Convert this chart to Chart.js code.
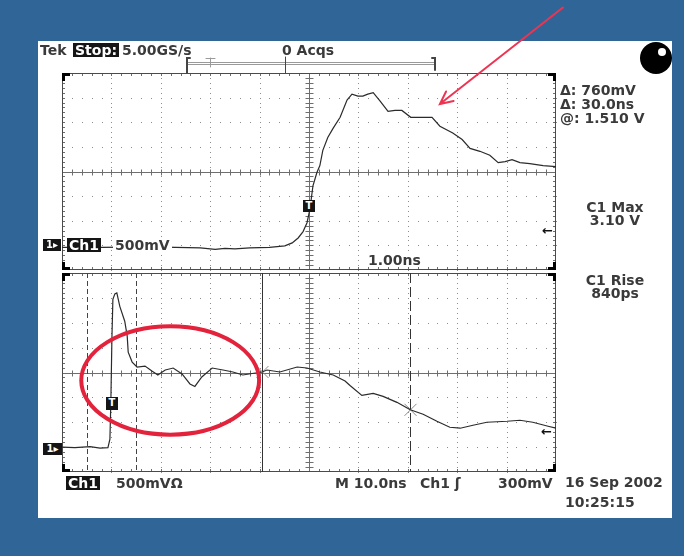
<!DOCTYPE html>
<html>
<head>
<meta charset="utf-8">
<title>Tek scope capture</title>
<script src="https://cdn.jsdelivr.net/npm/chart.js@4.4.1/dist/chart.umd.min.js"></script>
<style>
  html, body { margin: 0; padding: 0; }
  body { width: 684px; height: 556px; background: #2f6597; position: relative; overflow: hidden;
         font: bold 14px "DejaVu Sans", sans-serif; color: #3a3a3a; }
  #screen { position: absolute; left: 38px; top: 41px; width: 634px; height: 477px; background: #fff; }
  canvas { position: absolute; left: 0; top: 0; }
  .t { position: absolute; white-space: nowrap; line-height: 14px; }
  .inv { background: #151515; color: #fff; padding: 0 2px; }
  .wb { background: #fff; padding: 0 2px; }
  .ctr { text-align: center; width: 80px; line-height: 13px; }
  .mark { position: absolute; background: #151515; color: #fff; font-size: 10px; line-height: 12px; text-align: center; }
  .arr { font-size: 13px; color: #111; }
  #ball { position: absolute; left: 640px; top: 42px; width: 32px; height: 32px; border-radius: 50%; background: #000; }
  #ball::after { content: ''; position: absolute; left: 18px; top: 6px; width: 8px; height: 8px; border-radius: 50%; background: #fff; }
</style>
</head>
<body>
<div id="screen"></div>
<canvas id="zoomChart" width="684" height="556"></canvas>
<canvas id="mainChart" width="684" height="556"></canvas>
<div id="ball"></div>

<div class="t" style="left:40px;top:43px">Tek</div>
<div class="t inv" style="left:73px;top:43px">Stop:</div>
<div class="t" style="left:122px;top:43px">5.00GS/s</div>
<div class="t" style="left:282px;top:43px">0 Acqs</div>

<div class="t" style="left:560px;top:83px">Δ: 760mV</div>
<div class="t" style="left:560px;top:97px">Δ: 30.0ns</div>
<div class="t" style="left:560px;top:111px">@: 1.510 V</div>
<div class="t ctr" style="left:575px;top:201px">C1 Max<br>3.10 V</div>
<div class="t ctr" style="left:575px;top:274px">C1 Rise<br>840ps</div>

<div class="t wb" style="left:366px;top:253px">1.00ns</div>
<div class="mark" style="left:43px;top:239px;width:18px;height:12px">1▸</div>
<div class="t inv" style="left:67px;top:238px">Ch1</div>
<div class="t wb" style="left:113px;top:238px">500mV</div>
<div class="mark" style="left:43px;top:443px;width:19px;height:12px">1▸</div>
<div class="mark" style="left:303px;top:200px;width:12px;height:12px">T</div>
<div class="mark" style="left:106px;top:397px;width:12px;height:13px">T</div>
<div class="t arr" style="left:542px;top:224px">←</div>
<div class="t arr" style="left:541px;top:425px">←</div>

<div class="t inv" style="left:66px;top:476px">Ch1</div>
<div class="t" style="left:116px;top:476px">500mVΩ</div>
<div class="t" style="left:335px;top:476px">M 10.0ns</div>
<div class="t" style="left:420px;top:476px">Ch1 ʃ</div>
<div class="t" style="left:498px;top:476px">300mV</div>
<div class="t" style="left:565px;top:475px">16 Sep 2002</div>
<div class="t" style="left:565px;top:495px">10:25:15</div>

<script>
// zoomed trace, 1.00 ns/div around the trigger
const zoomTimeNs = [-5.0, -4.2, -3.2, -2.7, -2.2, -1.9, -1.7, -1.5, -1.2, -0.8, -0.49, -0.34, -0.22, -0.12, -0.04,
  0.02, 0.08, 0.16, 0.22, 0.28, 0.38, 0.49, 0.63, 0.77, 0.87, 0.99, 1.09, 1.19, 1.30, 1.44, 1.60, 1.74, 1.88,
  2.06, 2.25, 2.49, 2.65, 2.91, 3.10, 3.26, 3.46, 3.66, 3.83, 3.97, 4.11, 4.27, 4.47, 4.74, 5.0];
const zoomVolts = [-0.04, -0.04, -0.03, -0.04, -0.05, -0.08, -0.06, -0.07, -0.05, -0.04, -0.01, 0.05, 0.15, 0.28, 0.46,
  0.74, 1.21, 1.48, 1.62, 1.93, 2.19, 2.38, 2.60, 2.95, 3.07, 3.03, 3.03, 3.07, 3.10, 2.93, 2.72, 2.74, 2.74,
  2.60, 2.60, 2.60, 2.42, 2.28, 2.15, 1.97, 1.91, 1.83, 1.68, 1.70, 1.74, 1.68, 1.66, 1.62, 1.60];

// main record, 10.0 ns/div
const mainTimeNs = [-10, -7.4, -4.3, -2.3, -0.7, -0.3, -0.1, 0.1, 0.3, 0.7, 1.1, 1.7, 2.7, 3.2, 3.4, 4.2, 5.2, 6.8,
  8.2, 9.4, 10.9, 12.5, 14.3, 15.9, 16.9, 18.3, 20.4, 22.6, 24.6, 26.6, 28.5, 30.5, 31.5, 34.1, 37.6, 39.6, 42.2,
  44.9, 47.3, 48.3, 50.7, 53.0, 55.0, 57.8, 60.5, 63.1, 65.9, 68.5, 70.6, 73.2, 76.0, 80.1, 82.7, 85.3, 88.4, 90];
const mainVolts = [0, -0.01, 0.01, -0.02, -0.01, 0.16, 0.96, 2.17, 2.97, 3.08, 3.10, 2.83, 2.53, 2.23, 1.91, 1.71, 1.61, 1.63,
  1.53, 1.45, 1.55, 1.59, 1.47, 1.27, 1.22, 1.41, 1.59, 1.55, 1.51, 1.45, 1.48, 1.51, 1.55, 1.51, 1.61, 1.59, 1.51,
  1.45, 1.33, 1.24, 1.04, 1.08, 1.02, 0.90, 0.75, 0.66, 0.52, 0.40, 0.38, 0.44, 0.50, 0.52, 0.54, 0.50, 0.42, 0.38];

// cursors on the main record (ns) and the level each one reads (V)
const cursorTimes = [30.5, 60.5];
const cursorLevels = [1.51, 0.75];
const zoomWindow = [-5, 5];

// 10 x 8 division graticule with dotted lines, ruled centre cross and edge ticks
const graticule = {
  id: 'graticule',
  beforeDatasetsDraw(chart, args, opts) {
    const { ctx, chartArea: a, scales: { x, y } } = chart;
    const xs = [], ys = [];
    for (let i = 0; i <= 10; i++) xs.push(Math.round(x.getPixelForValue(x.min + i * (x.max - x.min) / 10)));
    for (let j = 0; j <= 8; j++) ys.push(Math.round(y.getPixelForValue(y.min + j * (y.max - y.min) / 8)));
    const mx = (a.right - a.left) / 50, my = (a.bottom - a.top) / 40;
    ctx.save();

    ctx.fillStyle = '#8c8c8c';
    for (let i = 1; i < 10; i++) {
      if (i === 5) continue;
      for (let k = 0; k <= 40; k++) ctx.fillRect(xs[i], Math.round(a.top + k * my), 1, 1);
    }
    for (let j = 1; j < 8; j++) {
      if (j === 4) continue;
      for (let k = 0; k <= 50; k++) ctx.fillRect(Math.round(a.left + k * mx), ys[j], 1, 1);
    }

    const cx = xs[5] + 0.5, cy = ys[4] + 0.5;
    ctx.strokeStyle = '#6e6e6e';
    ctx.lineWidth = 1;
    ctx.beginPath();
    ctx.moveTo(a.left, cy); ctx.lineTo(a.right, cy);
    ctx.moveTo(cx, a.top); ctx.lineTo(cx, a.bottom);
    for (let k = 1; k < 50; k++) {
      const px = Math.round(a.left + k * mx) + 0.5;
      ctx.moveTo(px, cy - 3); ctx.lineTo(px, cy + 3);
      ctx.moveTo(px, a.top); ctx.lineTo(px, a.top + 3);
      ctx.moveTo(px, a.bottom); ctx.lineTo(px, a.bottom - 3);
    }
    for (let k = 1; k < 40; k++) {
      const py = Math.round(a.top + k * my) + 0.5;
      ctx.moveTo(cx - 4, py); ctx.lineTo(cx + 4, py);
      ctx.moveTo(a.left, py); ctx.lineTo(a.left + 3, py);
      ctx.moveTo(a.right, py); ctx.lineTo(a.right - 3, py);
    }
    ctx.stroke();

    // frame
    ctx.strokeStyle = '#4a4a4a';
    ctx.strokeRect(Math.round(a.left) + 0.5, Math.round(a.top) + 0.5,
      Math.round(a.right - a.left) - 1, Math.round(a.bottom - a.top) - 1);

    // corner marks
    ctx.fillStyle = '#000';
    const L = Math.round(a.left), R = Math.round(a.right), T = Math.round(a.top), B = Math.round(a.bottom);
    [[L, T, 1, 1], [R, T, -1, 1], [L, B, 1, -1], [R, B, -1, -1]].forEach(([px, py, sx, sy]) => {
      ctx.fillRect(sx > 0 ? px : px - 3, sy > 0 ? py : py - 8, 3, 8);
      ctx.fillRect(sx > 0 ? px : px - 8, sy > 0 ? py : py - 3, 8, 3);
    });

    // zoom window and time cursors
    if (opts.zoomWindow) {
      ctx.strokeStyle = '#444';
      ctx.setLineDash([5, 3]);
      ctx.beginPath();
      opts.zoomWindow.forEach(t => {
        const px = Math.round(x.getPixelForValue(t)) + 0.5;
        ctx.moveTo(px, a.top); ctx.lineTo(px, a.bottom);
      });
      ctx.stroke();
    }
    if (opts.cursors) {
      opts.cursors.forEach((t, i) => {
        const px = Math.round(x.getPixelForValue(t)) + 0.5;
        ctx.strokeStyle = '#333';
        ctx.setLineDash(i === 0 ? [] : [10, 4]);
        ctx.beginPath();
        ctx.moveTo(px, a.top); ctx.lineTo(px, a.bottom);
        ctx.stroke();
        const py = y.getPixelForValue(opts.levels[i]);
        ctx.setLineDash([]);
        ctx.strokeStyle = '#8a8a8a';
        ctx.beginPath();
        ctx.moveTo(px - 6, py - 6); ctx.lineTo(px + 6, py + 6);
        ctx.moveTo(px + 6, py - 6); ctx.lineTo(px - 6, py + 6);
        ctx.stroke();
      });
    }
    ctx.restore();
  },
  afterDraw(chart, args, opts) {
    const { ctx, scales: { x, y } } = chart;
    ctx.save();
    if (opts.ellipse) {
      const e = opts.ellipse;
      const cx = x.getPixelForValue(e.t), cy = y.getPixelForValue(e.v);
      const rx = x.getPixelForValue(e.t + e.dt) - cx, ry = cy - y.getPixelForValue(e.v + e.dv);
      ctx.strokeStyle = '#e3223c';
      ctx.lineWidth = 4;
      ctx.beginPath();
      ctx.ellipse(cx, cy, rx, ry, 0, 0, Math.PI * 2);
      ctx.stroke();
    }
    if (opts.arrow) {
      const w = opts.arrow;
      const x0 = x.getPixelForValue(w.from[0]), y0 = y.getPixelForValue(w.from[1]);
      const x1 = x.getPixelForValue(w.to[0]), y1 = y.getPixelForValue(w.to[1]);
      const ang = Math.atan2(y1 - y0, x1 - x0);
      ctx.strokeStyle = '#ee3452';
      ctx.lineWidth = 2;
      ctx.lineCap = 'round';
      ctx.beginPath();
      ctx.moveTo(x0, y0); ctx.lineTo(x1, y1);
      ctx.moveTo(x1 - 14 * Math.cos(ang - 0.45), y1 - 14 * Math.sin(ang - 0.45));
      ctx.lineTo(x1, y1);
      ctx.lineTo(x1 - 14 * Math.cos(ang + 0.45), y1 - 14 * Math.sin(ang + 0.45));
      ctx.stroke();
    }
    if (opts.recordBar) {
      // record view strip above the upper graticule
      ctx.strokeStyle = '#9a9a9a';
      ctx.lineWidth = 1;
      ctx.beginPath();
      ctx.moveTo(188, 62.5); ctx.lineTo(435, 62.5);
      ctx.moveTo(188, 64.5); ctx.lineTo(435, 64.5);
      ctx.moveTo(206, 58.5); ctx.lineTo(215, 58.5);
      ctx.moveTo(210.5, 58); ctx.lineTo(210.5, 67);
      ctx.stroke();
      ctx.strokeStyle = '#444';
      ctx.lineWidth = 2;
      ctx.beginPath();
      ctx.moveTo(190, 58); ctx.lineTo(187, 58); ctx.lineTo(187, 73);
      ctx.moveTo(432, 58); ctx.lineTo(435, 58); ctx.lineTo(435, 70);
      ctx.stroke();
      ctx.lineWidth = 1;
      ctx.beginPath();
      ctx.moveTo(285.5, 57); ctx.lineTo(285.5, 73);
      ctx.stroke();
    }
    ctx.restore();
  }
};

function scopeChart(id, times, volts, xMin, xMax, padding, extra) {
  return new Chart(document.getElementById(id), {
    type: 'line',
    data: {
      datasets: [{
        data: times.map((t, i) => ({ x: t, y: volts[i] })),
        borderColor: '#2b2b2b', borderWidth: 1.2, pointRadius: 0, tension: 0
      }]
    },
    options: {
      responsive: false, animation: false, devicePixelRatio: 1,
      layout: { padding },
      scales: {
        x: { type: 'linear', min: xMin, max: xMax, display: false },
        y: { min: -0.5, max: 3.5, display: false }
      },
      plugins: { legend: { display: false }, tooltip: { enabled: false }, graticule: extra }
    },
    plugins: [graticule]
  });
}

scopeChart('zoomChart', zoomTimeNs, zoomVolts, -5, 5,
  { left: 62, top: 73, right: 128, bottom: 286 },
  { recordBar: true, arrow: { from: [5.14, 4.83], to: [2.65, 2.87] } });

scopeChart('mainChart', mainTimeNs, mainVolts, -10, 90,
  { left: 62, top: 273, right: 128, bottom: 84 },
  { zoomWindow, cursors: cursorTimes, levels: cursorLevels,
    ellipse: { t: 11.9, v: 1.34, dt: 18.0, dv: 1.09 } });
</script>
</body>
</html>
